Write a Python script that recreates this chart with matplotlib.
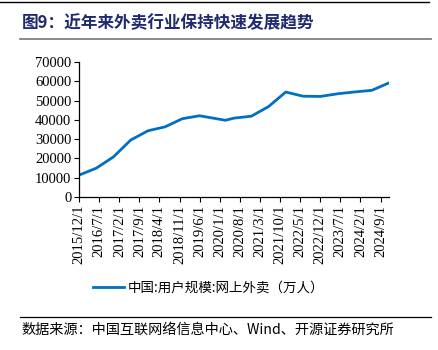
import datetime

import matplotlib
import matplotlib.dates as mdates
import matplotlib.pyplot as plt
from matplotlib.lines import Line2D

matplotlib.use('Agg')

# CNNIC 网上外卖用户规模（万人）
dates = ["2015-12", "2016-06", "2016-12", "2017-06", "2017-12", "2018-06",
         "2018-12", "2019-06", "2020-03", "2020-06", "2020-12", "2021-06",
         "2021-12", "2022-06", "2022-12", "2023-06", "2023-12", "2024-06",
         "2024-12"]
users = [11356, 14966, 20856, 29534, 34338, 36387, 40601, 42118, 39780,
         40903, 41883, 46859, 54416, 52265, 52116, 53488, 54454, 55302,
         59183]
tick_labels = ["2015/12/1", "2016/7/1", "2017/2/1", "2017/9/1", "2018/4/1",
               "2018/11/1", "2019/6/1", "2020/1/1", "2020/8/1", "2021/3/1",
               "2021/10/1", "2022/5/1", "2022/12/1", "2023/7/1", "2024/2/1",
               "2024/9/1"]
y_ticks = [0, 10000, 20000, 30000, 40000, 50000, 60000, 70000]

title = "图9：近年来外卖行业保持快速发展趋势"
legend_label = "中国:用户规模:网上外卖（万人）"
source = "数据来源：中国互联网络信息中心、Wind、开源证券研究所"

cjk = ['Noto Sans CJK SC', 'DejaVu Sans']
serif = ['Liberation Serif', 'DejaVu Serif']

x = [datetime.datetime.strptime(d, "%Y-%m") for d in dates]
xt = [datetime.datetime.strptime(t, "%Y/%m/%d") for t in tick_labels]

fig = plt.figure(figsize=(4.38, 3.5), dpi=100)
ax = fig.add_axes([0.1804, 0.437, 0.708, 0.386])
ax.plot(x, users, color='#0070C0', lw=2.0, solid_capstyle='round')

ax.set_xlim(x[0], x[-1])
ax.set_ylim(0, 70000)
ax.set_yticks(y_ticks)
ax.set_yticklabels([str(v) for v in y_ticks], family=serif, fontsize=10.5)
ax.set_xticks(xt)
ax.set_xticklabels(tick_labels, rotation=90, family=serif, fontsize=10.5)
ax.tick_params(axis='both', direction='out', length=3.5, width=0.8,
               color='black', pad=2)
for s in ['top', 'right']:
    ax.spines[s].set_visible(False)
for s in ['left', 'bottom']:
    ax.spines[s].set_linewidth(0.9)

# title, rules and legend in figure coords
fig.text(0.05, 0.935, title, family=cjk, fontsize=12, fontweight='bold',
         color='#1F2A70', va='center')
fig.add_artist(Line2D([0.045, 0.985], [0.888, 0.888], color='#808080', lw=1.3))
fig.add_artist(Line2D([0.0, 0.98], [0.995, 0.995], color='black', lw=1.0))
fig.add_artist(Line2D([0.213, 0.282], [0.179, 0.179], color='#0070C0', lw=2.0))
fig.text(0.292, 0.179, legend_label, family=cjk, fontsize=9.7, va='center')
fig.add_artist(Line2D([0.045, 0.985], [0.094, 0.094], color='black', lw=0.9))
fig.text(0.05, 0.057, source, family=cjk, fontsize=10.2, va='center')

fig.savefig('out.png', dpi=100)
